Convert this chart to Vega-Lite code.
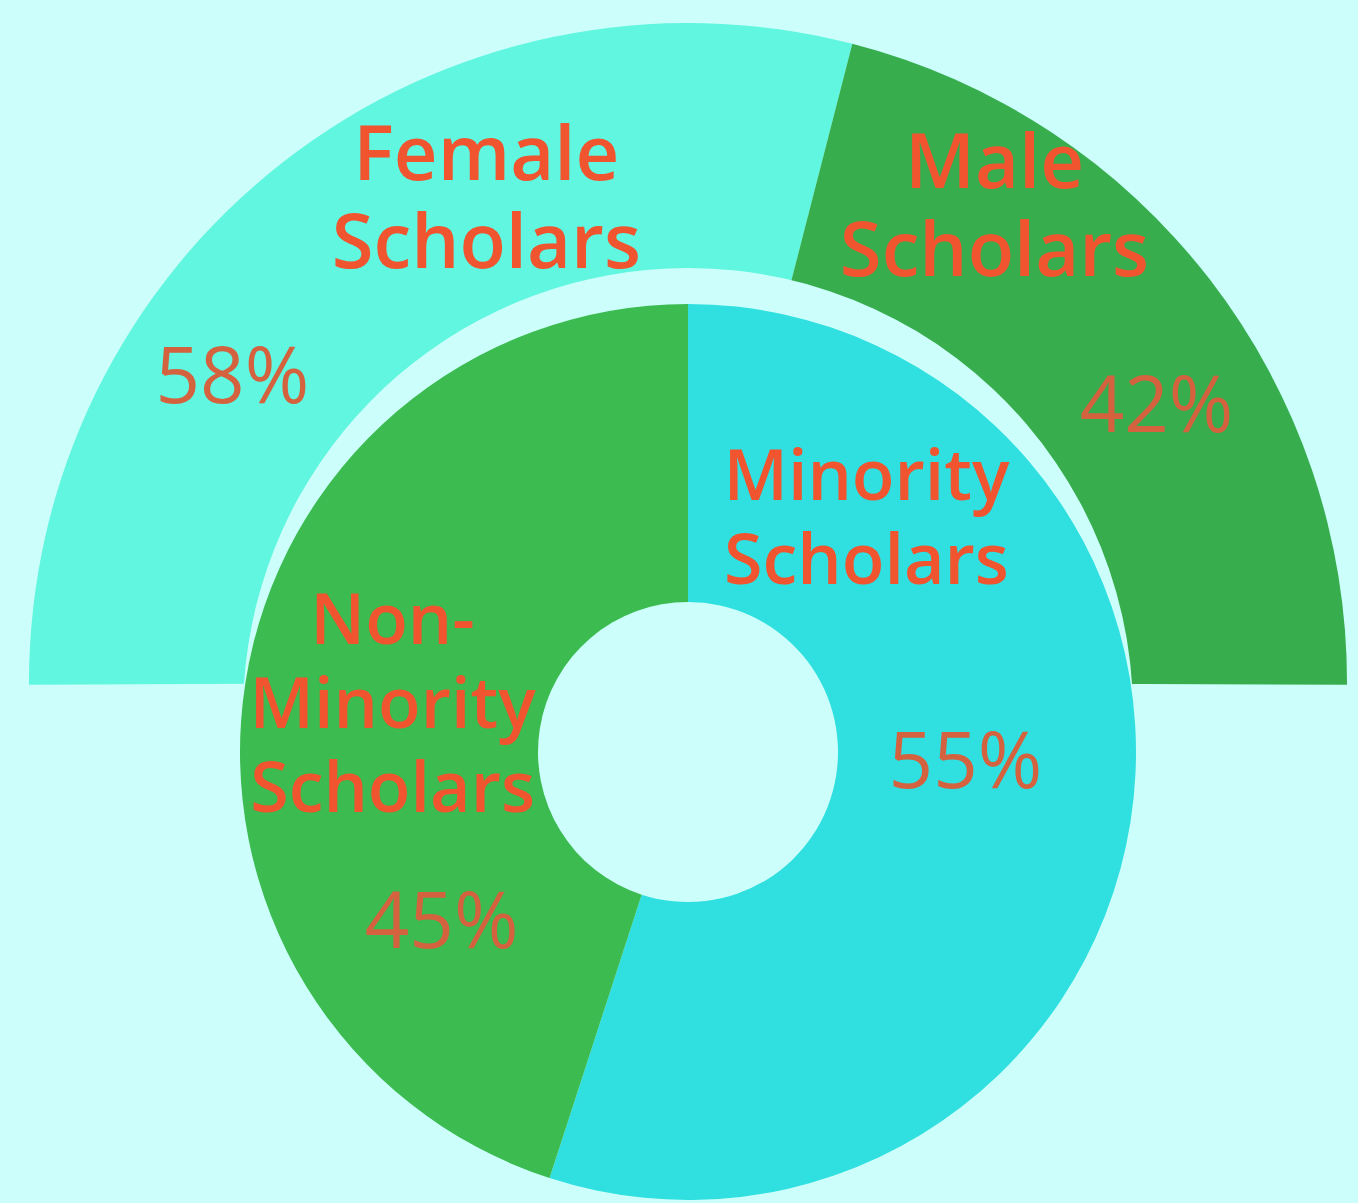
{
  "$schema": "https://vega.github.io/schema/vega-lite/v6.json",
  "width": 1340,
  "height": 1042,
  "autosize": {"type": "none"},
  "padding": {"left": 18, "top": 161, "right": 0, "bottom": 0},
  "background": "#ccfffb",
  "config": {"view": {"stroke": null}},
  "datasets": {
    "gender": [
      {"category": "Female Scholars", "label": "Female\nScholars", "share": 0.58},
      {"category": "Male Scholars", "label": "Male\nScholars", "share": 0.42}
    ],
    "minority": [
      {"category": "Minority Scholars", "label": "Minority\nScholars", "share": 0.55},
      {"category": "Non-Minority Scholars", "label": "Non-\nMinority\nScholars", "share": 0.45}
    ]
  },
  "resolve": {"scale": {"theta": "independent"}},
  "layer": [
    {
      "data": {"name": "gender"},
      "mark": {"type": "arc", "outerRadius": 659, "innerRadius": 0},
      "encoding": {
        "theta": {"field": "share", "type": "quantitative", "stack": true, "scale": {"range": [-1.575, 1.575]}},
        "order": {"field": "category", "type": "ordinal"},
        "color": {
          "field": "category", "type": "nominal", "legend": null,
          "scale": {
            "domain": ["Female Scholars", "Male Scholars", "Minority Scholars", "Non-Minority Scholars"],
            "range": ["#60f6df", "#37ad4e", "#30dfdf", "#3bbb50"]
          }
        }
      }
    },
    {
      "data": {"name": "minority"},
      "mark": {"type": "arc", "outerRadius": 445, "innerRadius": 0, "color": "#ccfffb", "yOffset": 31},
      "encoding": {
        "theta": {"field": "share", "type": "quantitative", "stack": true},
        "order": {"field": "category", "type": "ordinal"}
      }
    },
    {
      "data": {"name": "minority"},
      "mark": {"type": "arc", "outerRadius": 448, "innerRadius": 150, "yOffset": 70},
      "encoding": {
        "theta": {"field": "share", "type": "quantitative", "stack": true},
        "order": {"field": "category", "type": "ordinal"},
        "color": {"field": "category", "type": "nominal", "legend": null}
      }
    },
    {
      "data": {"name": "gender"},
      "mark": {"type": "text", "radius": 540, "dx": 130, "dy": -99, "font": "Open Sans", "fontSize": 76, "fontWeight": 600, "lineHeight": 88, "lineBreak": "\n", "color": "#f0552f", "align": "center", "baseline": "middle"},
      "encoding": {
        "theta": {"field": "share", "type": "quantitative", "stack": true, "scale": {"range": [-1.575, 1.575]}},
        "order": {"field": "category", "type": "ordinal"},
        "text": {"condition": {"test": "datum.category === 'Female Scholars'", "field": "label"}, "value": ""}
      }
    },
    {
      "data": {"name": "gender"},
      "mark": {"type": "text", "radius": 540, "dx": -121, "dy": -187, "font": "Open Sans", "fontSize": 76, "fontWeight": 600, "lineHeight": 88, "lineBreak": "\n", "color": "#f0552f", "align": "center", "baseline": "middle"},
      "encoding": {
        "theta": {"field": "share", "type": "quantitative", "stack": true, "scale": {"range": [-1.575, 1.575]}},
        "order": {"field": "category", "type": "ordinal"},
        "text": {"condition": {"test": "datum.category === 'Male Scholars'", "field": "label"}, "value": ""}
      }
    },
    {
      "data": {"name": "gender"},
      "mark": {"type": "text", "radius": 540, "dx": -124, "dy": 124, "font": "Open Sans", "fontSize": 78, "fontWeight": 400, "color": "#d4623e", "align": "center", "baseline": "middle"},
      "encoding": {
        "theta": {"field": "share", "type": "quantitative", "stack": true, "scale": {"range": [-1.575, 1.575]}},
        "order": {"field": "category", "type": "ordinal"},
        "text": {"condition": {"test": "datum.category === 'Female Scholars'", "field": "share", "format": ".0%"}, "value": ""}
      }
    },
    {
      "data": {"name": "gender"},
      "mark": {"type": "text", "radius": 540, "dx": 41, "dy": 57, "font": "Open Sans", "fontSize": 78, "fontWeight": 400, "color": "#d4623e", "align": "center", "baseline": "middle"},
      "encoding": {
        "theta": {"field": "share", "type": "quantitative", "stack": true, "scale": {"range": [-1.575, 1.575]}},
        "order": {"field": "category", "type": "ordinal"},
        "text": {"condition": {"test": "datum.category === 'Male Scholars'", "field": "share", "format": ".0%"}, "value": ""}
      }
    },
    {
      "data": {"name": "minority"},
      "mark": {"type": "text", "radius": 290, "yOffset": 70, "dx": -108, "dy": -318, "font": "Open Sans", "fontSize": 70, "fontWeight": 600, "lineHeight": 84, "lineBreak": "\n", "color": "#f0552f", "align": "center", "baseline": "middle"},
      "encoding": {
        "theta": {"field": "share", "type": "quantitative", "stack": true},
        "order": {"field": "category", "type": "ordinal"},
        "text": {"condition": {"test": "datum.category === 'Minority Scholars'", "field": "label"}, "value": ""}
      }
    },
    {
      "data": {"name": "minority"},
      "mark": {"type": "text", "radius": 290, "yOffset": 70, "dx": -9, "dy": -84, "font": "Open Sans", "fontSize": 70, "fontWeight": 600, "lineHeight": 84, "lineBreak": "\n", "color": "#f0552f", "align": "center", "baseline": "middle"},
      "encoding": {
        "theta": {"field": "share", "type": "quantitative", "stack": true},
        "order": {"field": "category", "type": "ordinal"},
        "text": {"condition": {"test": "datum.category === 'Non-Minority Scholars'", "field": "label"}, "value": ""}
      }
    },
    {
      "data": {"name": "minority"},
      "mark": {"type": "text", "radius": 290, "yOffset": 70, "dx": -9, "dy": -32, "font": "Open Sans", "fontSize": 78, "fontWeight": 400, "color": "#d4623e", "align": "center", "baseline": "middle"},
      "encoding": {
        "theta": {"field": "share", "type": "quantitative", "stack": true},
        "order": {"field": "category", "type": "ordinal"},
        "text": {"condition": {"test": "datum.category === 'Minority Scholars'", "field": "share", "format": ".0%"}, "value": ""}
      }
    },
    {
      "data": {"name": "minority"},
      "mark": {"type": "text", "radius": 290, "yOffset": 70, "dx": 40, "dy": 218, "font": "Open Sans", "fontSize": 78, "fontWeight": 400, "color": "#d4623e", "align": "center", "baseline": "middle"},
      "encoding": {
        "theta": {"field": "share", "type": "quantitative", "stack": true},
        "order": {"field": "category", "type": "ordinal"},
        "text": {"condition": {"test": "datum.category === 'Non-Minority Scholars'", "field": "share", "format": ".0%"}, "value": ""}
      }
    }
  ]
}
